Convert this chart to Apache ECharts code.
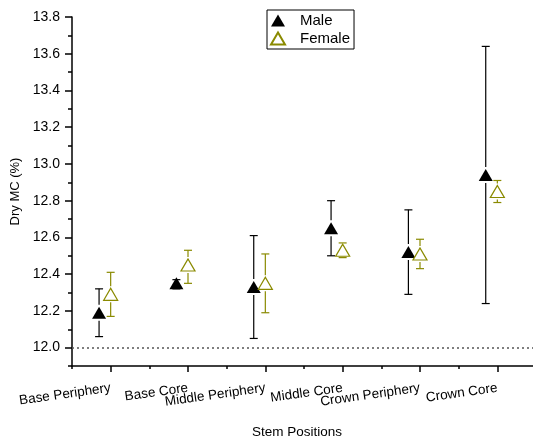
<!DOCTYPE html>
<html>
<head>
<meta charset="utf-8">
<script src="https://cdn.jsdelivr.net/npm/echarts@6/dist/echarts.min.js"></script>
<style>html,body{margin:0;padding:0;background:#fff;}#c{width:533px;height:439px;}</style>
</head>
<body>
<div id="c"></div>
<script>
const categories = ['Base Periphery', 'Base Core', 'Middle Periphery', 'Middle Core', 'Crown Periphery', 'Crown Core'];
const maleMean = [12.19, 12.35, 12.33, 12.65, 12.52, 12.94];
const maleLow = [12.06, 12.32, 12.05, 12.50, 12.29, 12.24];
const maleHigh = [12.32, 12.37, 12.61, 12.80, 12.75, 13.64];
const femaleMean = [12.29, 12.45, 12.35, 12.53, 12.51, 12.85];
const femaleLow = [12.17, 12.35, 12.19, 12.49, 12.43, 12.79];
const femaleHigh = [12.41, 12.53, 12.51, 12.57, 12.59, 12.91];
const yMajorTicks = [12.0, 12.2, 12.4, 12.6, 12.8, 13.0, 13.2, 13.4, 13.6, 13.8];
const yMinorTicks = [11.9, 12.1, 12.3, 12.5, 12.7, 12.9, 13.1, 13.3, 13.5, 13.7];
const referenceLine = 12.0;

const MALE_COLOR = '#000000';
const FEMALE_COLOR = '#8a8a00';
const maleShift = -0.15;
const femaleShift = 0;

const catIdx = categories.map((_, i) => i);
const catBounds = categories.map((_, i) => i - 0.5).concat([categories.length - 0.5]);

function pts(mean, shift) { return mean.map((v, i) => [i + shift, v]); }
function bars(mean, low, high, shift) { return mean.map((v, i) => [i + shift, low[i], high[i], v]); }

function errRender(color) {
  return function (params, api) {
    const x = api.value(0), lo = api.value(1), hi = api.value(2), m = api.value(3);
    const pLo = api.coord([x, lo]), pHi = api.coord([x, hi]), pM = api.coord([x, m]);
    const gap = 8, cap = 4;
    const style = { stroke: color, lineWidth: 1.2, fill: null };
    const ch = [];
    if (pHi[1] < pM[1] - gap) ch.push({ type: 'line', shape: { x1: pM[0], y1: pHi[1], x2: pM[0], y2: pM[1] - gap }, style });
    if (pLo[1] > pM[1] + gap) ch.push({ type: 'line', shape: { x1: pM[0], y1: pM[1] + gap, x2: pM[0], y2: pLo[1] }, style });
    ch.push({ type: 'line', shape: { x1: pM[0] - cap, y1: pHi[1], x2: pM[0] + cap, y2: pHi[1] }, style });
    ch.push({ type: 'line', shape: { x1: pM[0] - cap, y1: pLo[1], x2: pM[0] + cap, y2: pLo[1] }, style });
    return { type: 'group', children: ch };
  };
}

const chart = echarts.init(document.getElementById('c'), null, { renderer: 'canvas' });
const FONT = 'Liberation Sans, Arial, sans-serif';
chart.setOption({
  animation: false,
  backgroundColor: '#ffffff',
  grid: { left: 72, top: 17, width: 464, bottom: 73, containLabel: false, outerBoundsMode: 'none' },
  legend: {
    orient: 'vertical', left: 267, top: 10,
    data: ['Male', 'Female'],
    icon: 'triangle',
    itemWidth: 14, itemHeight: 12, itemGap: 3,
    padding: [3, 4, 3, 3],
    borderColor: '#000', borderWidth: 1,
    textStyle: { fontFamily: FONT, fontSize: 15, color: '#000', padding: [0, 0, 0, 10], lineHeight: 14 }
  },
  xAxis: [{
    type: 'value', min: -0.5, max: 5.5,
    name: 'Stem Positions', nameLocation: 'middle', nameGap: 59,
    nameTextStyle: { fontFamily: FONT, fontSize: 13.5, color: '#000', padding: [0, 14, 0, 0] },
    axisLine: { show: true, onZero: false, lineStyle: { color: '#000', width: 1.5 } },
    axisTick: { show: true, customValues: catIdx, length: 6, lineStyle: { color: '#000', width: 1.5 } },
    axisLabel: {
      customValues: catIdx, rotate: 8, margin: 22,
      fontFamily: FONT, fontSize: 13.5, color: '#000',
      formatter: v => categories[Math.round(v)] || ''
    },
    splitLine: { show: false }
  }, {
    type: 'value', min: -0.5, max: 5.5, position: 'bottom',
    axisLine: { show: false, onZero: false },
    axisTick: { show: true, customValues: catBounds, length: 3, lineStyle: { color: '#000', width: 1.5 } },
    axisLabel: { show: false },
    splitLine: { show: false }
  }],
  yAxis: [{
    type: 'value', min: 11.9, max: 13.8,
    name: 'Dry MC (%)', nameLocation: 'middle', nameGap: 50, nameRotate: 90,
    nameTextStyle: { fontFamily: FONT, fontSize: 13, color: '#000' },
    axisLine: { show: true, onZero: false, lineStyle: { color: '#000', width: 1.5 } },
    axisTick: { show: true, customValues: yMajorTicks, length: 7, lineStyle: { color: '#000', width: 1.5 } },
    axisLabel: { customValues: yMajorTicks, margin: 12, fontFamily: FONT, fontSize: 14, color: '#000', formatter: v => v.toFixed(1) },
    splitLine: { show: false }
  }, {
    type: 'value', min: 11.9, max: 13.8, position: 'left',
    axisLine: { show: false, onZero: false },
    axisTick: { show: true, customValues: yMinorTicks, length: 4, lineStyle: { color: '#000', width: 1.5 } },
    axisLabel: { show: false },
    splitLine: { show: false }
  }],
  series: [
    {
      name: 'MaleErr', type: 'custom', renderItem: errRender(MALE_COLOR),
      data: bars(maleMean, maleLow, maleHigh, maleShift), z: 2, silent: true,
      markLine: {
        silent: true, symbol: 'none', label: { show: false },
        lineStyle: { color: '#555', width: 1.5, type: [2, 3] },
        data: [{ yAxis: referenceLine }]
      }
    },
    {
      name: 'FemaleErr', type: 'custom', renderItem: errRender(FEMALE_COLOR),
      data: bars(femaleMean, femaleLow, femaleHigh, femaleShift), z: 2, silent: true
    },
    {
      name: 'Male', type: 'scatter', symbol: 'triangle', symbolSize: [14, 12],
      itemStyle: { color: MALE_COLOR, opacity: 1 },
      data: pts(maleMean, maleShift), z: 5
    },
    {
      name: 'Female', type: 'scatter', symbol: 'triangle', symbolSize: [14, 12],
      itemStyle: { color: '#ffffff', borderColor: FEMALE_COLOR, borderWidth: 1.2, opacity: 1 },
      data: pts(femaleMean, femaleShift), z: 5
    }
  ]
});
</script>
</body>
</html>
